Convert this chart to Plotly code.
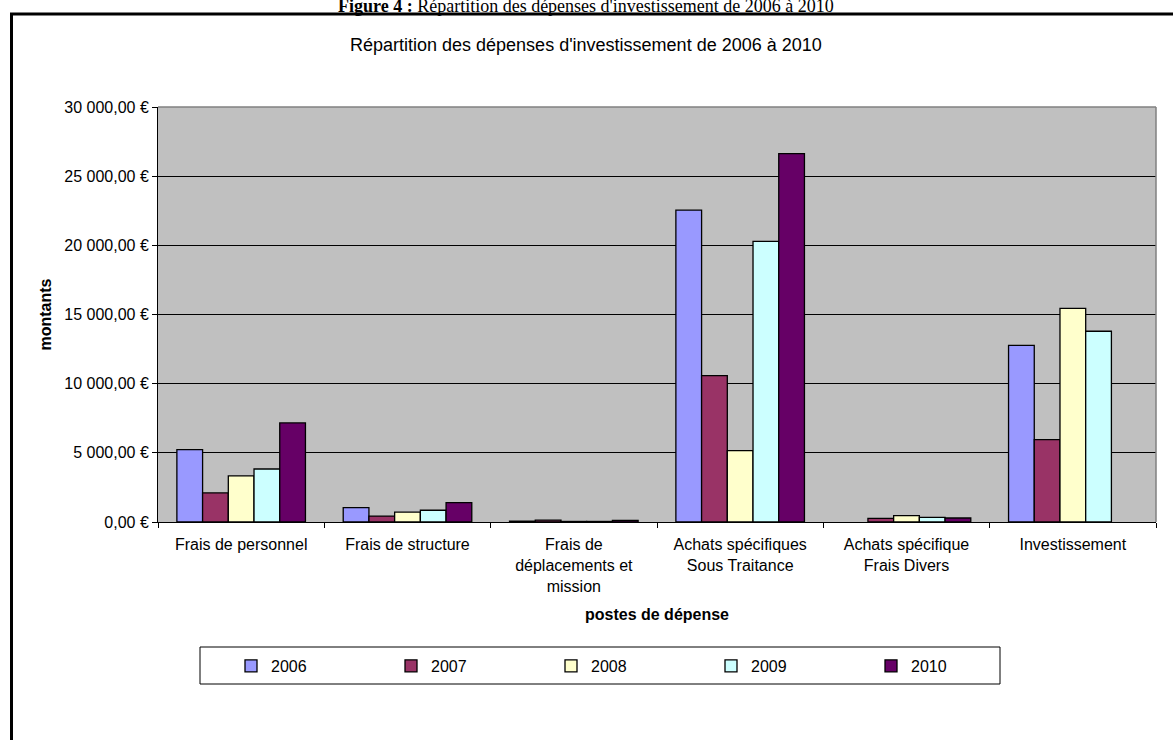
import plotly.graph_objects as go

# postes de dépense
categories = [
    "Frais de personnel",
    "Frais de structure",
    "Frais de déplacements et mission",
    "Achats spécifiques Sous Traitance",
    "Achats spécifique Frais Divers",
    "Investissement",
]
category_labels = [
    "Frais de personnel",
    "Frais de structure",
    "Frais de<br>déplacements et<br>mission",
    "Achats spécifiques<br>Sous Traitance",
    "Achats spécifique<br>Frais Divers",
    "Investissement",
]

years = ["2006", "2007", "2008", "2009", "2010"]
# None = no spending recorded that year
montants_2006 = [5230, 1040, 60, 22550, None, 12770]
montants_2007 = [2100, 430, 130, 10580, 260, 5960]
montants_2008 = [3330, 720, 40, 5160, 460, 15450]
montants_2009 = [3830, 850, 40, 20290, 340, 13790]
montants_2010 = [7160, 1400, 120, 26630, 290, None]

y_ticks = [0, 5000, 10000, 15000, 20000, 25000, 30000]
y_tick_labels = ["0,00 €", "5 000,00 €", "10 000,00 €", "15 000,00 €",
                 "20 000,00 €", "25 000,00 €", "30 000,00 €"]

colors = ["#9999FF", "#993366", "#FFFFCC", "#CCFFFF", "#660066"]
series = [montants_2006, montants_2007, montants_2008, montants_2009, montants_2010]

W, H = 1173, 740
ML, MR, MT, MB = 158, 17, 107, 218
PW, PH = W - ML - MR, H - MT - MB


# pixel -> paper helpers
def px(x):
    return (x - ML) / PW


def py(y):
    return (H - MB - y) / PH


fig = go.Figure()

for year, values, color in zip(years, series, colors):
    fig.add_trace(go.Bar(
        x=categories,
        y=values,
        name=year,
        marker=dict(color=color, line=dict(color="#000000", width=1.3)),
    ))

font = "Liberation Sans, Arial, sans-serif"

fig.update_layout(
    width=W,
    height=H,
    margin=dict(l=ML, r=MR, t=MT, b=MB, pad=0),
    paper_bgcolor="#FFFFFF",
    plot_bgcolor="#C0C0C0",
    barmode="group",
    bargap=0.227,
    bargroupgap=0,
    font=dict(family=font, size=16, color="#000000"),
    showlegend=True,
    legend=dict(
        orientation="h",
        x=px(231),
        xanchor="left",
        y=py(666),
        yanchor="middle",
        bgcolor="rgba(0,0,0,0)",
        borderwidth=0,
        entrywidth=115,
        entrywidthmode="pixels",
        font=dict(family=font, size=16),
    ),
    xaxis=dict(
        tickmode="array",
        tickvals=categories,
        ticktext=category_labels,
        tickson="boundaries",
        ticks="outside",
        ticklen=5,
        tickcolor="#000000",
        ticklabelstandoff=8,
        showline=True,
        linecolor="#000000",
        linewidth=1,
        showgrid=False,
        tickfont=dict(family=font, size=16),
        title=dict(text="<b>postes de dépense</b>", font=dict(family=font, size=16), standoff=15),
    ),
    yaxis=dict(
        range=[0, 30000],
        tickmode="array",
        tickvals=y_ticks,
        ticktext=y_tick_labels,
        ticks="outside",
        ticklen=5,
        tickcolor="#000000",
        showline=True,
        linecolor="#000000",
        linewidth=1,
        showgrid=True,
        gridcolor="#000000",
        gridwidth=1,
        zeroline=False,
        tickfont=dict(family=font, size=16),
        title=dict(text="<b>montants</b>", font=dict(family=font, size=16), standoff=8),
    ),
    shapes=[
        # outer frame
        dict(type="rect", xref="paper", yref="paper",
             x0=px(11.5), x1=px(1190), y0=py(760), y1=py(14),
             line=dict(color="#000000", width=3), layer="below"),
        # plot area border (top / right)
        dict(type="line", xref="paper", yref="paper", x0=0, x1=1, y0=1, y1=1,
             line=dict(color="#808080", width=1.5)),
        dict(type="line", xref="paper", yref="paper", x0=1, x1=1, y0=0, y1=1,
             line=dict(color="#808080", width=1.5)),
        # legend box
        dict(type="rect", xref="paper", yref="paper",
             x0=px(200), x1=px(1000), y0=py(684), y1=py(647),
             line=dict(color="#000000", width=1), layer="below"),
    ],
    annotations=[
        dict(text="<b>Figure 4 :</b> Répartition des dépenses d'investissement de 2006 à 2010",
             xref="paper", yref="paper", x=px(586), y=py(18), xanchor="center", yanchor="bottom",
             showarrow=False, font=dict(family="Liberation Serif, Times New Roman, serif", size=18)),
        dict(text="Répartition des dépenses d'investissement de 2006 à 2010",
             xref="paper", yref="paper", x=px(586), y=py(45), xanchor="center", yanchor="middle",
             showarrow=False, font=dict(family=font, size=18)),
    ],
)

# drop the default body margin so the chart sits at the window's top-left corner
fig.write_html(
    "out.html",
    config={"displayModeBar": False},
    post_script="document.body.style.margin='0';document.body.style.overflow='hidden';",
)
